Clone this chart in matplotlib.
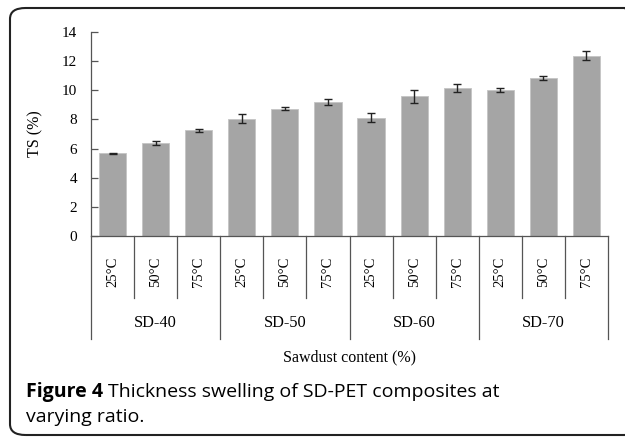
import matplotlib
matplotlib.use("Agg")
import matplotlib.pyplot as plt
from matplotlib.patches import FancyBboxPatch
import numpy as np

groups = ["SD-40", "SD-50", "SD-60", "SD-70"]
temps = ["25°C", "50°C", "75°C"]
ts_values = [5.67, 6.40, 7.25, 8.05, 8.72, 9.22, 8.12, 9.59, 10.16, 10.02, 10.87, 12.38]
ts_errors = [0.05, 0.14, 0.10, 0.29, 0.10, 0.20, 0.32, 0.45, 0.30, 0.14, 0.14, 0.30]
yticks = [0, 2, 4, 6, 8, 10, 12, 14]

W, H = 625, 437
fig = plt.figure(figsize=(W / 100, H / 100), dpi=100)
fig.patch.set_facecolor("white")

def fx(px):
    return px / W

def fy(py):
    return 1 - py / H

ax_l, ax_r, ax_b, ax_t = 91, 608, 236, 32
ax_h = (ax_b - ax_t) / H
ax = fig.add_axes([fx(ax_l), fy(ax_b), fx(ax_r - ax_l), ax_h])

x = np.arange(len(ts_values))
ax.bar(x, ts_values, width=0.63, color="#a5a5a5", edgecolor="#c4c4c4", linewidth=0.6, zorder=2)
ax.errorbar(x, ts_values, yerr=ts_errors, fmt="none", ecolor="#222222",
            elinewidth=1.0, capsize=3, capthick=1.0, zorder=3)

ax.set_xlim(-0.5, len(ts_values) - 0.5)
ax.set_ylim(0, 14)
ax.set_yticks(yticks)
ax.set_yticklabels([str(v) for v in yticks], fontfamily="Liberation Serif", fontsize=11)
ax.tick_params(axis="y", direction="in", length=5, width=0.9, color="#555555", pad=10)
ax.set_xticks([])
for s in ["top", "right"]:
    ax.spines[s].set_visible(False)
for s in ["left", "bottom"]:
    ax.spines[s].set_color("#555555")
    ax.spines[s].set_linewidth(0.9)

ax.set_ylabel("TS (%)", fontfamily="Liberation Serif", fontsize=11.5)
ax.yaxis.set_label_coords((43 - ax_l) / (ax_r - ax_l), 0.5)

def ay(py):
    return (fy(py) - fy(ax_b)) / ax_h

# category separators (multi-level axis)
trans = ax.get_xaxis_transform()
inner_bottom = ay(298)
group_bottom = ay(339)
for i in range(len(ts_values) + 1):
    xb = i - 0.5
    yb = group_bottom if i % 3 == 0 else inner_bottom
    ax.plot([xb, xb], [0, yb], transform=trans, color="#555555", lw=0.9, clip_on=False)

for i, v in enumerate(ts_values):
    ax.text(i, ay(272), temps[i % 3], transform=trans, rotation=90, ha="center", va="center",
            fontfamily="Liberation Serif", fontsize=10.5)
for g, name in enumerate(groups):
    ax.text(3 * g + 1, ay(323), name, transform=trans, ha="center", va="center",
            fontfamily="Liberation Serif", fontsize=11.8)

fig.text(fx((ax_l + ax_r) / 2), fy(357), "Sawdust content (%)", ha="center", va="center",
         fontfamily="Liberation Serif", fontsize=11.5)

# caption
cap1 = fig.text(fx(26), fy(392), "Figure 4", ha="left", va="center",
                fontfamily="Open Sans", fontweight="bold", fontsize=14)
fig.canvas.draw()
bb = cap1.get_window_extent()
fig.text((bb.x1 + 5) / W, fy(392), "Thickness swelling of SD-PET composites at",
         ha="left", va="center", fontfamily="Open Sans", fontsize=14)
fig.text(fx(26), fy(417), "varying ratio.", ha="left", va="center",
         fontfamily="Open Sans", fontsize=14)

# rounded frame
frame = FancyBboxPatch((fx(10), fy(435)), fx(640 - 10), (435 - 8) / H,
                       boxstyle="round,pad=0,rounding_size=0.025",
                       transform=fig.transFigure, fill=False, edgecolor="#222222",
                       linewidth=1.5, clip_on=False)
fig.patches.append(frame)

fig.savefig("out.png", dpi=100)
